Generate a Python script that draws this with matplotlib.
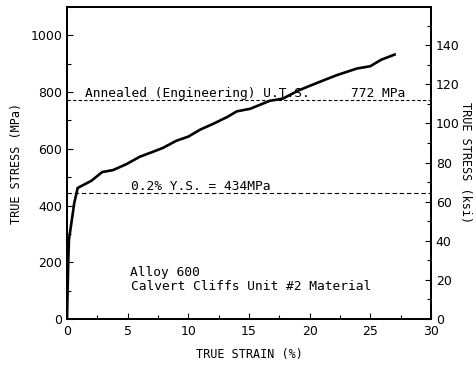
import numpy as np
import matplotlib
matplotlib.use('Agg')
import matplotlib.pyplot as plt
from matplotlib.ticker import MultipleLocator

# true stress-strain curve
strain = [0.0, 0.05, 0.10, 0.16, 0.40, 0.60, 0.88, 2.0, 2.9, 3.8, 4.9, 6.0, 7.0,
          7.9, 9.0, 10.0, 11.0, 12.1, 13.2, 14.0, 15.1, 16.7, 17.8, 19.1, 20.6,
          22.2, 23.9, 25.0, 25.9, 27.0]
stress = [0, 100, 200, 280, 350, 410, 462, 487, 518, 525, 546, 572, 588,
          603, 628, 643, 668, 689, 712, 732, 741, 769, 777, 806, 832,
          859, 883, 891, 914, 932]

uts_mpa = 772
ys_line = 445   # where the Y.S. line sits in the picture
MPA_PER_KSI = 6.895

mono = 'DejaVu Sans Mono'

fig = plt.figure(figsize=(4.77, 3.65), dpi=100)
ax = fig.add_axes([0.1405, 0.126, 0.763, 0.855])

ax.plot(strain, stress, color='black', lw=1.9, solid_joinstyle='round')
ax.axhline(uts_mpa, color='black', lw=0.8, dashes=(3, 2))
ax.axhline(ys_line, color='black', lw=0.8, dashes=(4, 2.5))

ax.set_xlim(0, 30)
ax.set_ylim(0, 1100)
ax.xaxis.set_major_locator(MultipleLocator(5))
ax.xaxis.set_minor_locator(MultipleLocator(2.5))
ax.yaxis.set_major_locator(MultipleLocator(200))
ax.yaxis.set_minor_locator(MultipleLocator(100))
ax.tick_params(which='both', direction='in', labelsize=9, width=0.8)
ax.tick_params(which='major', length=4)
ax.tick_params(which='minor', length=3)
ax.tick_params(axis='x', pad=4)
for s in ax.spines.values():
    s.set_linewidth(1.4)

ax.set_xlabel('TRUE STRAIN (%)', family=mono, fontsize=8.5, va='center')
ax.set_ylabel('TRUE STRESS (MPa)', family=mono, fontsize=8.5, va='center')
ax.xaxis.set_label_coords(0.5, -0.115)
ax.yaxis.set_label_coords(-0.14, 0.5)

ax2 = ax.twinx()
ax2.set_ylim(0, 1100 / MPA_PER_KSI)
ax2.yaxis.set_major_locator(MultipleLocator(20))
ax2.yaxis.set_minor_locator(MultipleLocator(10))
ax2.tick_params(which='both', direction='in', labelsize=9, width=0.8)
ax2.tick_params(which='major', length=4)
ax2.tick_params(which='minor', length=3)
for s in ax2.spines.values():
    s.set_linewidth(1.4)
ax2.set_ylabel('TRUE STRESS (ksi)', family=mono, fontsize=8.5, rotation=-90,
               va='center')
ax2.yaxis.set_label_coords(1.095, 0.5)

ax.text(1.5, 781, 'Annealed (Engineering) U.T.S.', family=mono, fontsize=9.3)
ax.text(23.4, 781, '772 MPa', family=mono, fontsize=9.3)
ax.text(5.3, 454, '0.2% Y.S. = 434MPa', family=mono, fontsize=9.3)
ax.text(5.2, 165, 'Alloy 600', family=mono, fontsize=9.3, va='center')
ax.text(5.3, 116, 'Calvert Cliffs Unit #2 Material', family=mono,
        fontsize=9.3, va='center')

fig.savefig('out.png', dpi=100)
